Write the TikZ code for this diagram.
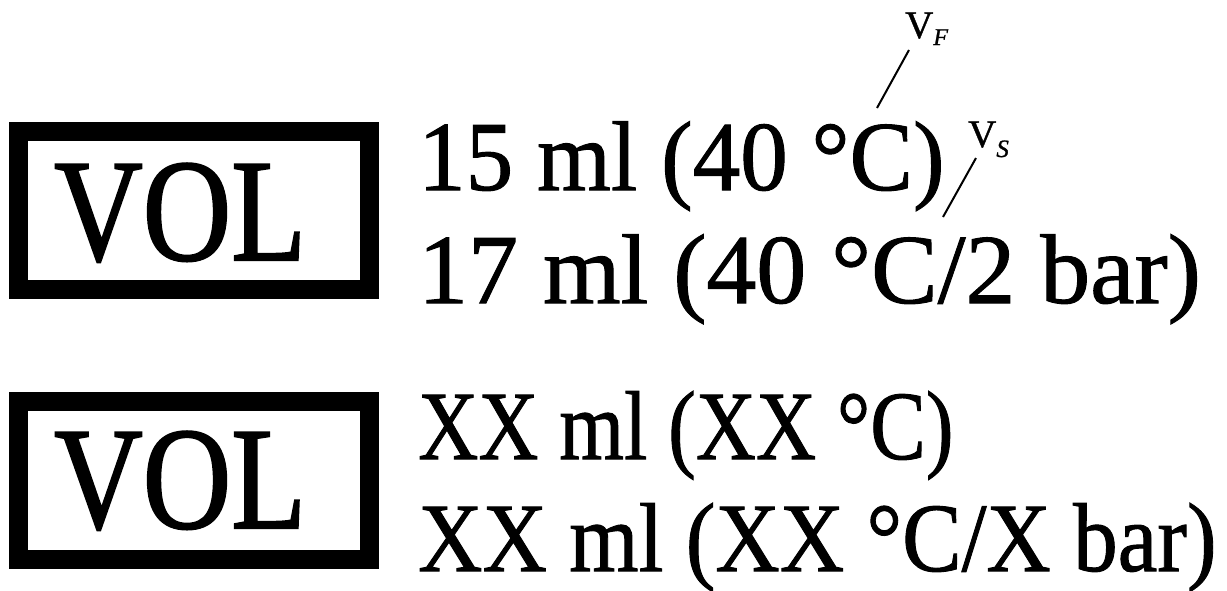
\documentclass[tikz,border=0pt]{standalone}
\usepackage{fontspec}
\usepackage{graphicx}
\setmainfont{Liberation Serif}
\newfontfamily\heavyfont{Liberation Serif}[FakeBold=1.5]
\newfontfamily\midfont{Liberation Serif}[FakeBold=1]
\begin{document}
\begin{tikzpicture}[x=1pt,y=-1pt,
  frame/.style={draw=black,line width=19pt},
  big/.style={inner sep=0pt,anchor=base west,font=\heavyfont\fontsize{146}{150}\selectfont},
  val/.style={inner sep=0pt,anchor=base west,font=\midfont\fontsize{99}{110}\selectfont},
  lab/.style={inner sep=0pt,anchor=base west,font=\midfont\fontsize{39}{40}\selectfont},
  leader/.style={line width=2pt}]
\useasboundingbox (0,0) rectangle (1227,590);
% top
\draw[frame] (18.5,131.5) rectangle (369,289.5);
\node[big] (vol1) at (54,260) {\scalebox{0.84}[1]{VOL}};
\node[val] (t1) at (418,190) {\scalebox{0.96}[1]{15 ml (40 °C)}};
\node[val] (t2) at (418,303) {\scalebox{1.008}[1]{17 ml (40 °C/2 bar)}};
\node[lab] (vf) at (905,38) {V\raisebox{-7pt}{\fontsize{24}{24}\itshape F}};
\node[lab] (vs) at (968,147) {V\raisebox{-10pt}{\fontsize{25}{25}\itshape S}};
\coordinate (vfa) at (877,108);
\coordinate (vfb) at (909,50);
\coordinate (vsa) at (943,217);
\coordinate (vsb) at (976,158);
\draw[leader] (vfa) -- (vfb);
\draw[leader] (vsa) -- (vsb);
% bottom
\draw[frame] (18.5,401.5) rectangle (369,559.5);
\node[big] (vol2) at (54,528) {\scalebox{0.84}[1]{VOL}};
\node[val,font=\midfont\fontsize{98}{110}\selectfont] (b1) at (418,459) {\scalebox{0.85}[1]{XX ml (XX °C)}};
\node[val,font=\midfont\fontsize{98}{110}\selectfont] (b2) at (418,571) {\scalebox{0.91}[1]{XX ml (XX °C/X bar)}};
\end{tikzpicture}
\end{document}
